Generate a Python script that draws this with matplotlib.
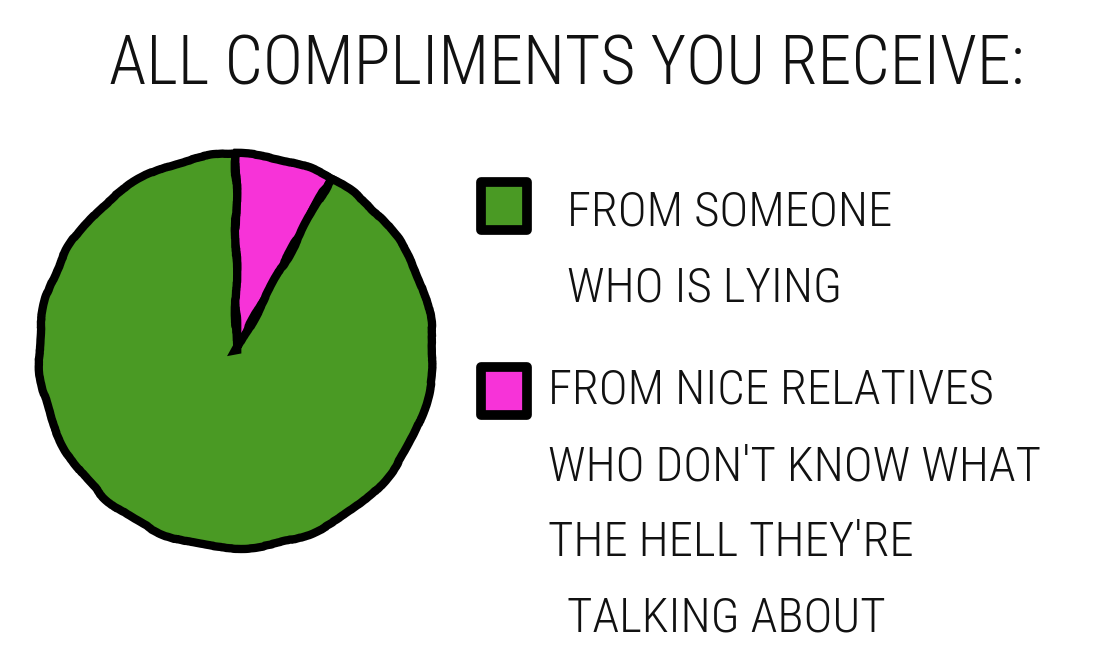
import matplotlib.pyplot as plt
from matplotlib import font_manager
from matplotlib.patches import Rectangle

title = "ALL COMPLIMENTS YOU RECEIVE:"
labels = ["FROM SOMEONE\nWHO IS LYING",
          "FROM NICE RELATIVES\nWHO DON'T KNOW WHAT\nTHE HELL THEY'RE\nTALKING ABOUT"]
shares = [8, 92]  # pink, green (clockwise from the top)
colors = ["#f733d8", "#4a9a24"]

# look for a narrow font, otherwise fall back to DejaVu Sans
family, stretch = "DejaVu Sans", "normal"
names = {(f.name, f.stretch) for f in font_manager.fontManager.ttflist}
for fam in ["Liberation Sans Narrow", "Roboto Condensed", "Open Sans Condensed", "Noto Sans Condensed"]:
    if any(n == fam for n, s in names):
        family = fam
        break
else:
    for fam in ["DejaVu Sans", "Noto Sans", "Open Sans", "Roboto"]:
        if (fam, "condensed") in names or (fam, "semi-condensed") in names:
            family = fam
            stretch = "condensed" if (fam, "condensed") in names else "semi-condensed"
            break

plt.rcParams["font.family"] = [family, "DejaVu Sans"]

W, H = 1108, 664
fig = plt.figure(figsize=(W / 100, H / 100), dpi=100)
fig.patch.set_facecolor("white")

# pie area, circle centre about (242, 351) px, radius ~197 px
ax = fig.add_axes([(236 - 200) / W, 1 - (351 + 200) / H, 400 / W, 400 / H])
wedges, _ = ax.pie(shares, colors=colors, startangle=90, counterclock=False,
                   radius=197 / 200,
                   wedgeprops=dict(edgecolor="black", linewidth=6))
for w in wedges:
    w.set_sketch_params(scale=1.2, length=160, randomness=10)
ax.set_xlim(-1, 1)
ax.set_ylim(-1, 1)
ax.set_aspect("equal")
ax.axis("off")

t_title = fig.text(567 / W, 1 - 66 / H, title, ha="center", va="center", fontsize=40,
                   color="#111111", fontstretch=stretch, fontweight="light")

# legend squares
sq_tops = [182, 367]
for top, c in zip(sq_tops, colors[::-1]):
    r = Rectangle((481 / W, 1 - (top + 48) / H), 46 / W, 48 / H, transform=fig.transFigure,
                  facecolor=c, edgecolor="black", linewidth=7, joinstyle="round")
    fig.patches.append(r)

# legend text lines
line_x = [[567, 567], [548, 548, 548, 567]]
line_y = [[212, 288], [390, 467, 543, 618]]
leg_texts = []
for lab, xs, ys in zip(labels, line_x, line_y):
    for txt, x, y in zip(lab.split("\n"), xs, ys):
        t = fig.text(x / W, 1 - y / H, txt, ha="left", va="center", fontsize=40,
                     color="#111111", fontstretch=stretch, fontweight="light")
        leg_texts.append(t)

# size the text so the widths match the drawing
fig.canvas.draw()
r = fig.canvas.get_renderer()
w_title = t_title.get_window_extent(r).width
t_title.set_fontsize(40 * 915 / w_title)
widest = [t for t in leg_texts if t.get_text() == "WHO DON'T KNOW WHAT"][0]
w_leg = widest.get_window_extent(r).width
for t in leg_texts:
    t.set_fontsize(min(40 * 492 / w_leg, 44))

fig.savefig("out.png", dpi=100, facecolor="white")
